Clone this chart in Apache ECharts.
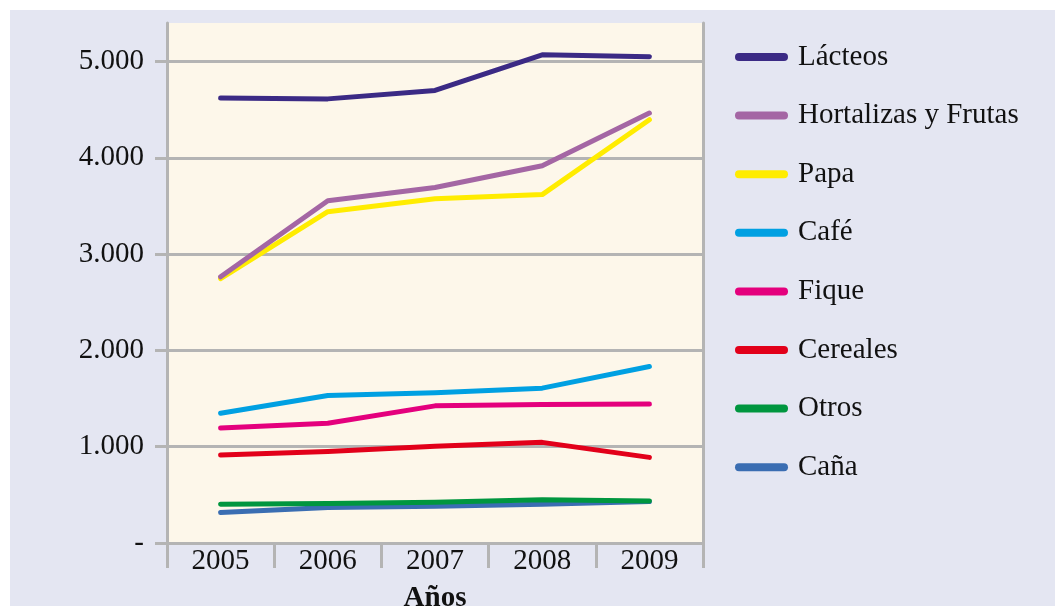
<!DOCTYPE html>
<html>
<head>
<meta charset="utf-8">
<script src="https://cdn.jsdelivr.net/npm/echarts@6/dist/echarts.min.js"></script>
<style>
  html, body { margin: 0; padding: 0; background: #ffffff; }
  #main { position: absolute; left: 10px; top: 10px; width: 1045px; height: 596px; }
</style>
</head>
<body>
<div id="main"></div>
<script>
// categorias y valores
const years = ["2005", "2006", "2007", "2008", "2009"];
const lacteos = [4620, 4612, 4700, 5070, 5050];
const hortalizas = [2764, 3555, 3692, 3917, 4465];
const papa = [2745, 3441, 3576, 3618, 4396];
const cafe = [1347, 1531, 1559, 1608, 1833];
const fique = [1194, 1243, 1424, 1437, 1444];
const cereales = [913, 951, 1005, 1045, 889];
const otros = [403, 410, 424, 448, 437];
const cana = [316, 368, 382, 403, 430];
const yTicks = [0, 1000, 2000, 3000, 4000, 5000];

const names = ["Lácteos", "Hortalizas y Frutas", "Papa", "Café", "Fique", "Cereales", "Otros", "Caña"];
const values = [lacteos, hortalizas, papa, cafe, fique, cereales, otros, cana];
const colors = ["#3b2a85", "#a466a4", "#ffec00", "#00a0e2", "#e4007d", "#e2001a", "#00963f", "#3a6db2"];

const serif = "'Liberation Serif', 'Times New Roman', serif";
const gray = "#b4b4b4";

const chart = echarts.init(document.getElementById("main"));

const series = values.map((data, i) => {
  return {
    name: names[i],
    type: "line",
    data: data,
    symbol: "none",
    z: 20 - i,
    lineStyle: { color: colors[i], width: 5, cap: "round", join: "round" },
    itemStyle: { color: colors[i] },
  };
});

const option = {
  backgroundColor: "#e4e6f2",
  animation: false,
  color: colors,
  grid: {
    left: 157,
    right: 352,
    top: 13,
    bottom: 63,
    outerBoundsMode: "none",
    containLabel: false,
    show: true,
    backgroundColor: "#fdf7ea",
    borderWidth: 0,
  },
  legend: {
    orient: "vertical",
    left: 725,
    top: 32,
    padding: 0,
    itemWidth: 53,
    itemHeight: 8,
    itemGap: 28.6,
    icon: "path://M4,0 L49,0 A4,4 0 0 1 49,8 L4,8 A4,4 0 0 1 4,0 Z",
    textStyle: {
      fontFamily: serif,
      fontSize: 29,
      color: "#111",
      lineHeight: 30,
      padding: [0, 0, 0, 5],
    },
    data: names,
  },
  xAxis: {
    type: "category",
    data: years,
    boundaryGap: true,
    axisLine: { show: true, lineStyle: { color: gray, width: 3 } },
    axisTick: { show: true, length: 25, lineStyle: { color: gray, width: 3 } },
    axisLabel: { fontFamily: serif, fontSize: 29, color: "#111", margin: 4 },
    name: "Años",
    nameLocation: "middle",
    nameGap: 41,
    nameTextStyle: { fontFamily: serif, fontSize: 29, fontWeight: "bold", color: "#111" },
  },
  yAxis: [
    {
      type: "value",
      min: 0,
      max: 5400,
      interval: 1000,
      axisLine: { show: true, lineStyle: { color: gray, width: 3 } },
      axisTick: { show: true, length: 12, customValues: yTicks, lineStyle: { color: gray, width: 3 } },
      axisLabel: {
        customValues: yTicks,
        fontFamily: serif,
        fontSize: 29,
        color: "#111",
        margin: 23,
        formatter: (v) => (v === 0 ? "-" : (v / 1000).toFixed(0) + ".000"),
      },
      splitLine: { show: true, lineStyle: { color: gray, width: 3 } },
    },
    {
      type: "value",
      position: "right",
      min: 0,
      max: 5400,
      axisLine: { show: true, lineStyle: { color: gray, width: 3 } },
      axisTick: { show: false },
      axisLabel: { show: false },
      splitLine: { show: false },
    },
  ],
  series: series,
};

chart.setOption(option);
</script>
</body>
</html>
